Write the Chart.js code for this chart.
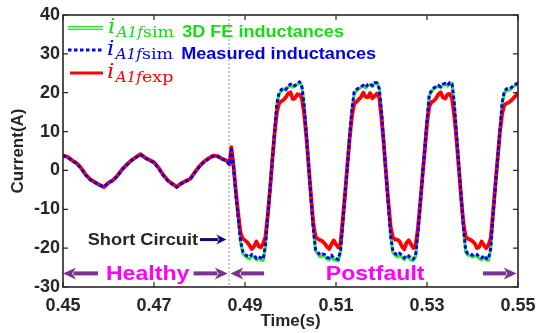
<!DOCTYPE html>
<html lang="en">
<head>
<meta charset="UTF-8" />
<title>Phase A1 current</title>
<script src="https://cdn.jsdelivr.net/npm/chart.js"></script>
<style>
  body { margin: 0; background: #fff; }
</style>
</head>
<body>
<canvas id="currentChart" width="539" height="333"></canvas>
<script>
// time axis (s): 1 ms before the fault, 0.5 ms afterwards
const timeS = [
  0.450, 0.451, 0.452, 0.453, 0.454, 0.455, 0.456, 0.457, 0.458, 0.459,
  0.460, 0.461, 0.462, 0.463, 0.464, 0.465, 0.466, 0.467, 0.468, 0.469,
  0.470, 0.471, 0.472, 0.473, 0.474, 0.475, 0.476, 0.477, 0.478, 0.479,
  0.480, 0.481, 0.482, 0.483, 0.484, 0.485, 0.486, 0.4866, 0.4870,
  0.4875, 0.4880, 0.4885, 0.4890, 0.4895, 0.4900, 0.4905, 0.4910, 0.4915, 0.4920,
  0.4925, 0.4930, 0.4935, 0.4940, 0.4945, 0.4950, 0.4955, 0.4960, 0.4965, 0.4970,
  0.4975, 0.4980, 0.4985, 0.4990, 0.4995, 0.5000, 0.5005, 0.5010, 0.5015, 0.5020,
  0.5025, 0.5030, 0.5035, 0.5040, 0.5045, 0.5050, 0.5055, 0.5060, 0.5065, 0.5070,
  0.5075, 0.5080, 0.5085, 0.5090, 0.5095, 0.5100, 0.5105, 0.5110, 0.5115, 0.5120,
  0.5125, 0.5130, 0.5135, 0.5140, 0.5145, 0.5150, 0.5155, 0.5160, 0.5165, 0.5170,
  0.5175, 0.5180, 0.5185, 0.5190, 0.5195, 0.5200, 0.5205, 0.5210, 0.5215, 0.5220,
  0.5225, 0.5230, 0.5235, 0.5240, 0.5245, 0.5250, 0.5255, 0.5260, 0.5265, 0.5270,
  0.5275, 0.5280, 0.5285, 0.5290, 0.5295, 0.5300, 0.5305, 0.5310, 0.5315, 0.5320,
  0.5325, 0.5330, 0.5335, 0.5340, 0.5345, 0.5350, 0.5355, 0.5360, 0.5365, 0.5370,
  0.5375, 0.5380, 0.5385, 0.5390, 0.5395, 0.5400, 0.5405, 0.5410, 0.5415, 0.5420,
  0.5425, 0.5430, 0.5435, 0.5440, 0.5445, 0.5450, 0.5455, 0.5460, 0.5465, 0.5470,
  0.5475, 0.5480, 0.5485, 0.5490, 0.5495, 0.5500
];

// i_A1f simulated with 3D FE inductances (A)
const iSimFe = [
  3.9, 3.4, 2.5, 1.8, 0.5, -1.2, -2.4, -3.1, -3.8, -4.2,
  -3.1, -2.6, -1.4, 0.2, 1.4, 2.5, 3.3, 4.1, 3.2, 2.6,
  2.0, 0.6, -1.2, -2.6, -3.5, -4.3, -3.4, -2.8, -2.2, -0.5,
  1.0, 2.2, 3.0, 3.7, 3.6, 2.9, 2.4, 1.4, 5.2,
  0.6, -6.0, -11.8, -18.2, -21.3, -22.0, -22.5, -22.8, -22.0, -22.3,
  -23.0, -22.7, -23.0, -23.2, -19.6, -12.0, -5.0, 2.4, 9.7, 17.0,
  19.6, 20.4, 21.0, 20.6, 21.5, 22.0, 21.4, 21.7, 22.1, 22.7,
  21.6, 17.0, 9.3, 1.2, -6.8, -14.8, -20.6, -21.5, -22.2, -22.0,
  -22.0, -22.8, -23.0, -22.3, -23.0, -23.1, -23.3, -21.0, -13.6, -6.3,
  1.1, 8.4, 15.5, 19.8, 20.5, 21.0, 21.4, 21.7, 21.2, 21.9,
  22.1, 21.6, 22.4, 22.6, 21.2, 15.2, 7.2, -0.8, -8.6, -16.6,
  -21.2, -21.8, -22.3, -21.8, -22.3, -23.0, -22.2, -22.5, -23.1, -23.2,
  -22.2, -16.3, -9.2, -1.8, 5.2, 12.6, 19.2, 20.3, 21.0, 21.4,
  21.7, 21.3, 22.0, 22.2, 21.7, 22.4, 22.4, 17.4, 9.3, 1.3,
  -6.5, -14.5, -21.0, -21.8, -21.9, -22.3, -22.0, -22.0, -22.7, -23.0,
  -22.3, -23.0, -23.2, -20.4, -12.0, -4.7, 2.4, 9.7, 17.0, 20.0,
  20.7, 20.6, 21.0, 21.6, 22.0, 22.4
];

// i_A1f simulated with measured inductances (A)
const iSimMeas = [
  3.9, 3.4, 2.5, 1.8, 0.5, -1.2, -2.4, -3.1, -3.8, -4.2,
  -3.1, -2.6, -1.4, 0.2, 1.4, 2.5, 3.3, 4.1, 3.2, 2.6,
  2.0, 0.6, -1.2, -2.6, -3.5, -4.3, -3.4, -2.8, -2.2, -0.5,
  1.0, 2.2, 3.0, 3.7, 3.6, 2.9, 2.4, 1.4, 5.4,
  0.5, -6.2, -12.0, -18.0, -20.8, -21.6, -22.0, -22.3, -21.6, -21.8,
  -22.6, -22.2, -22.5, -22.8, -19.2, -11.8, -4.8, 2.6, 9.9, 17.3,
  20.0, 20.8, 21.2, 20.9, 21.8, 22.2, 21.6, 21.9, 22.3, 22.8,
  21.5, 16.8, 9.1, 1.0, -7.0, -15.0, -20.3, -21.0, -21.8, -21.5,
  -21.6, -22.4, -22.5, -21.8, -22.6, -22.7, -22.9, -20.5, -13.4, -6.1,
  1.3, 8.6, 15.7, 20.2, 20.8, 21.2, 21.6, 21.9, 21.4, 22.1,
  22.3, 21.8, 22.6, 22.5, 21.0, 15.0, 7.0, -1.0, -8.8, -16.8,
  -20.8, -21.4, -21.8, -21.3, -21.9, -22.5, -21.8, -22.0, -22.7, -22.8,
  -21.8, -16.0, -9.0, -1.6, 5.4, 12.8, 19.5, 20.6, 21.2, 21.6,
  21.9, 21.5, 22.2, 22.4, 21.9, 22.6, 22.3, 17.2, 9.1, 1.1,
  -6.7, -14.7, -20.6, -21.4, -21.4, -21.8, -21.5, -21.6, -22.3, -22.5,
  -21.9, -22.6, -22.8, -20.0, -11.8, -4.5, 2.6, 9.9, 17.3, 20.4,
  21.0, 20.9, 21.3, 21.8, 22.2, 22.5
];

// i_A1f measured on the test bench (A)
const iExp = [
  3.8, 3.5, 2.6, 1.9, 0.6, -1.1, -2.3, -3.0, -3.7, -4.3,
  -3.2, -2.5, -1.3, 0.3, 1.5, 2.6, 3.4, 4.2, 3.3, 2.7,
  2.1, 0.7, -1.1, -2.5, -3.4, -4.2, -3.3, -2.7, -2.1, -0.4,
  1.1, 2.3, 3.1, 3.8, 3.7, 3.0, 2.5, 1.6, 6.0,
  1.0, -5.5, -11.0, -16.0, -17.5, -18.0, -18.5, -19.3, -20.2, -19.5,
  -18.3, -19.5, -19.8, -18.8, -17.0, -11.5, -4.8, 2.5, 9.5, 15.0,
  17.3, 17.8, 18.2, 18.9, 19.8, 20.1, 18.4, 18.6, 19.6, 19.5,
  18.5, 14.5, 8.5, 1.0, -6.5, -13.5, -17.0, -17.6, -17.9, -18.2,
  -18.8, -19.6, -20.2, -19.0, -18.0, -19.0, -19.8, -18.8, -12.5, -5.8,
  1.3, 8.3, 14.0, 17.2, 17.6, 18.3, 18.9, 20.0, 19.0, 18.8,
  19.9, 18.6, 19.2, 19.8, 18.8, 13.5, 6.8, -0.8, -8.0, -14.5,
  -17.2, -17.8, -17.8, -18.3, -19.6, -20.3, -18.6, -18.0, -19.0, -20.0,
  -19.2, -15.0, -8.5, -1.5, 5.2, 12.0, 16.5, 17.6, 17.9, 18.6,
  19.6, 20.1, 18.8, 18.5, 19.6, 19.7, 18.6, 14.0, 7.8, 0.5,
  -7.0, -13.5, -17.0, -17.6, -17.8, -18.2, -18.8, -20.0, -19.6, -18.3,
  -19.2, -20.0, -19.2, -17.5, -11.0, -4.0, 2.8, 9.5, 14.5, 16.8,
  17.3, 17.5, 18.0, 18.6, 19.2, 20.0
];

const xTicks = [0.45, 0.47, 0.49, 0.51, 0.53, 0.55];
const yTicks = [-30, -20, -10, 0, 10, 20, 30, 40];
const faultTime = 0.4865;

const AXIS_COLOR = "#262626";
const SANS = "'Liberation Sans', Arial, sans-serif";
const SERIF = "'DejaVu Serif', serif";

function pts(values) {
  return timeS.map((t, i) => ({ x: t, y: values[i] }));
}

// text drawn slightly wider than the font, like the exported figure
function wideText(ctx, text, x, y, font, color, align, sx) {
  ctx.save();
  ctx.font = font;
  ctx.fillStyle = color;
  ctx.textBaseline = "alphabetic";
  ctx.textAlign = "left";
  const w = ctx.measureText(text).width * sx;
  let x0 = x;
  if (align === "center") x0 = x - w / 2;
  if (align === "right") x0 = x - w;
  ctx.translate(x0, y);
  ctx.scale(sx, 1);
  ctx.fillText(text, 0, 0);
  ctx.restore();
  return w;
}

function hArrow(ctx, xTail, xHead, y, color, shaft, headLen, headHalf) {
  const dir = Math.sign(xHead - xTail);
  ctx.save();
  ctx.fillStyle = color;
  ctx.strokeStyle = color;
  ctx.lineWidth = shaft;
  ctx.beginPath();
  ctx.moveTo(xTail, y);
  ctx.lineTo(xHead - dir * headLen * 0.8, y);
  ctx.stroke();
  ctx.beginPath();
  ctx.moveTo(xHead, y);
  ctx.lineTo(xHead - dir * headLen, y - headHalf);
  ctx.lineTo(xHead - dir * headLen * 0.7, y);
  ctx.lineTo(xHead - dir * headLen, y + headHalf);
  ctx.closePath();
  ctx.fill();
  ctx.restore();
}

// legend entry: coloured "i" with subscript, optional bold caption
function legendRow(ctx, x, y, color, sub1, sub2, caption) {
  let cx = x;
  cx += wideText(ctx, "i", cx, y, "italic 21px " + SERIF, color, "left", 1.1) + 1;
  cx += wideText(ctx, sub1, cx, y + 4, "italic 14px " + SERIF, color, "left", 1.1);
  cx += wideText(ctx, sub2, cx, y + 4, "14px " + SERIF, color, "left", 1.25) + 8;
  if (caption) wideText(ctx, caption, cx, y + 4, "bold 16px " + SANS, color, "left", 1.13);
}

const figureNotes = {
  id: "figureNotes",
  beforeDatasetsDraw(chart) {
    const { ctx, chartArea: a, scales: { x } } = chart;
    const fx = x.getPixelForValue(faultTime);
    ctx.save();
    ctx.strokeStyle = "#9a9a9a";
    ctx.lineWidth = 1;
    ctx.setLineDash([2, 2]);
    ctx.beginPath();
    ctx.moveTo(fx, a.top);
    ctx.lineTo(fx, a.bottom);
    ctx.stroke();
    ctx.restore();
  },
  afterDraw(chart) {
    const { ctx, chartArea: a, scales: { x, y } } = chart;

    // box and inward ticks on all four sides
    ctx.save();
    ctx.strokeStyle = AXIS_COLOR;
    ctx.lineWidth = 1.6;
    ctx.strokeRect(a.left, a.top, a.right - a.left, a.bottom - a.top);
    ctx.lineWidth = 1.2;
    ctx.beginPath();
    xTicks.forEach((v) => {
      const px = x.getPixelForValue(v);
      ctx.moveTo(px, a.bottom); ctx.lineTo(px, a.bottom - 5);
      ctx.moveTo(px, a.top); ctx.lineTo(px, a.top + 5);
    });
    yTicks.forEach((v) => {
      const py = y.getPixelForValue(v);
      ctx.moveTo(a.left, py); ctx.lineTo(a.left + 5, py);
      ctx.moveTo(a.right, py); ctx.lineTo(a.right - 5, py);
    });
    ctx.stroke();
    ctx.restore();

    // legend
    const lx = a.left + 5;
    ctx.save();
    ctx.lineWidth = 4;
    ctx.strokeStyle = "#2fe02f";
    ctx.beginPath(); ctx.moveTo(lx, a.top + 13); ctx.lineTo(lx + 35, a.top + 13); ctx.stroke();
    ctx.lineWidth = 1.5;
    ctx.strokeStyle = "#d8ffd8";
    ctx.beginPath(); ctx.moveTo(lx, a.top + 13); ctx.lineTo(lx + 35, a.top + 13); ctx.stroke();
    ctx.lineWidth = 3;
    ctx.strokeStyle = "#0000ff";
    ctx.setLineDash([3.5, 2.5]);
    ctx.beginPath(); ctx.moveTo(lx, a.top + 35); ctx.lineTo(lx + 35, a.top + 35); ctx.stroke();
    ctx.setLineDash([]);
    ctx.strokeStyle = "#ff0000";
    ctx.beginPath(); ctx.moveTo(lx + 2, a.top + 58); ctx.lineTo(lx + 35, a.top + 58); ctx.stroke();
    ctx.restore();
    legendRow(ctx, lx + 40, a.top + 18, "#10e010", "A1f", "sim", "3D FE inductances");
    legendRow(ctx, lx + 39, a.top + 40, "#0000ee", "A1f", "sim", "Measured inductances");
    legendRow(ctx, lx + 39, a.top + 63, "#ff0000", "A1f", "exp", "");

    // fault annotation
    const scY = y.getPixelForValue(-17.8);
    wideText(ctx, "Short Circuit", x.getPixelForValue(0.4797), y.getPixelForValue(-19.3),
      "bold 16px " + SANS, AXIS_COLOR, "right", 1.14);
    hArrow(ctx, x.getPixelForValue(0.4801), x.getPixelForValue(0.4859), scY, "#0c0c70", 3, 10, 5);

    // operating regions
    const ry = y.getPixelForValue(-26.5);
    const purple = "#7b3390";
    hArrow(ctx, x.getPixelForValue(0.4577), x.getPixelForValue(0.4500), ry, purple, 4, 13, 6);
    hArrow(ctx, x.getPixelForValue(0.4787), x.getPixelForValue(0.4862), ry, purple, 4, 13, 6);
    hArrow(ctx, x.getPixelForValue(0.4942), x.getPixelForValue(0.4868), ry, purple, 4, 13, 6);
    hArrow(ctx, x.getPixelForValue(0.5423), x.getPixelForValue(0.5497), ry, purple, 4, 13, 6);
    wideText(ctx, "Healthy", x.getPixelForValue(0.4686), y.getPixelForValue(-28.3),
      "bold 21px " + SANS, "#ff00ff", "center", 1.1);
    wideText(ctx, "Postfault", x.getPixelForValue(0.5186), y.getPixelForValue(-28.3),
      "bold 21px " + SANS, "#ff00ff", "center", 1.1);
  }
};

new Chart(document.getElementById("currentChart"), {
  type: "line",
  data: {
    datasets: [
      {
        label: "iA1f sim (Measured inductances)",
        data: pts(iSimMeas),
        borderColor: "#0000ff",
        borderWidth: 3,
        borderDash: [3.5, 2.5],
        order: 0
      },
      {
        label: "iA1f exp",
        data: pts(iExp),
        borderColor: "#ff0000",
        borderWidth: 3.8,
        order: 1
      },
      {
        label: "iA1f sim (3D FE inductances)",
        data: pts(iSimFe),
        borderColor: "#2fe82f",
        borderWidth: 3,
        order: 2
      }
    ]
  },
  options: {
    responsive: false,
    devicePixelRatio: 1,
    animation: false,
    events: [],
    elements: {
      point: { radius: 0 },
      line: { tension: 0, borderJoinStyle: "round" }
    },
    layout: { padding: { top: 15, right: 21, left: 0, bottom: 0 } },
    scales: {
      x: {
        type: "linear",
        min: 0.45,
        max: 0.55,
        afterBuildTicks: (s) => { s.ticks = xTicks.map((v) => ({ value: v })); },
        afterFit: (s) => {
          s.height = 46;
          s.paddingLeft = 0;
          s.paddingRight = 0;
        },
        ticks: {
          callback: (v) => v.toFixed(2),
          color: AXIS_COLOR,
          font: { family: SANS, size: 18, weight: "bold" },
          padding: 8,
          maxRotation: 0
        },
        grid: { display: false, drawTicks: false },
        border: { display: false },
        title: {
          display: true,
          text: "Time(s)",
          color: AXIS_COLOR,
          font: { family: SANS, size: 17, weight: "bold" },
          padding: { top: 0, bottom: 1 }
        }
      },
      y: {
        min: -30,
        max: 40,
        afterBuildTicks: (s) => { s.ticks = yTicks.map((v) => ({ value: v })); },
        afterFit: (s) => {
          s.width = 63;
          s.paddingTop = 0;
          s.paddingBottom = 0;
        },
        ticks: {
          color: AXIS_COLOR,
          font: { family: SANS, size: 18, weight: "bold" },
          padding: 3
        },
        grid: { display: false, drawTicks: false },
        border: { display: false },
        title: {
          display: true,
          text: "Current(A)",
          color: AXIS_COLOR,
          font: { family: SANS, size: 17, weight: "bold" },
          padding: { top: 8, bottom: 0 }
        }
      }
    },
    plugins: {
      legend: { display: false },
      tooltip: { enabled: false }
    }
  },
  plugins: [figureNotes]
});
</script>
</body>
</html>
